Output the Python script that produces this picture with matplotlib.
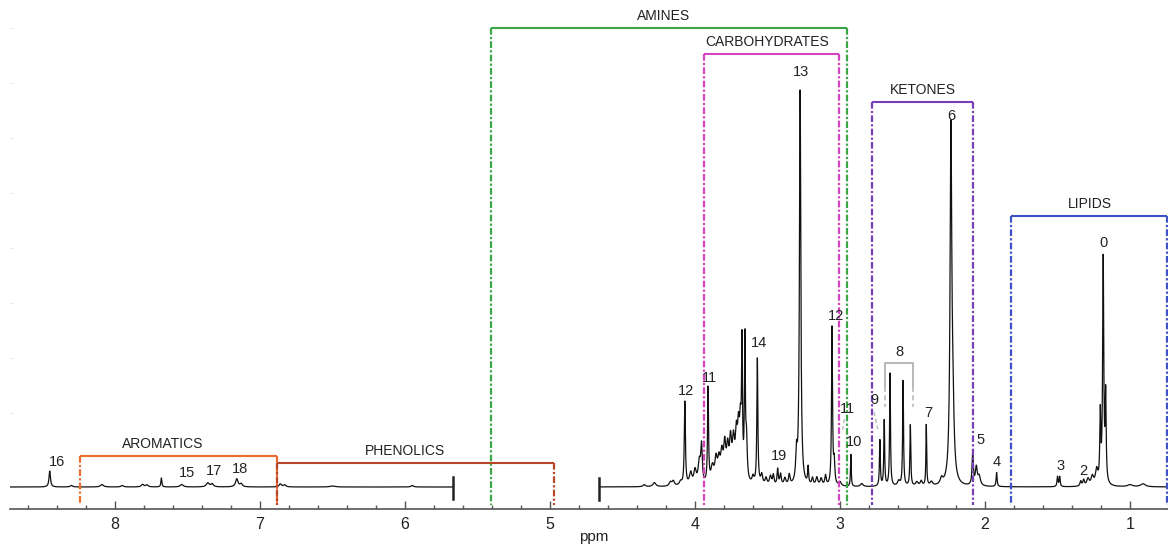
import numpy as np
import matplotlib
matplotlib.use("Agg")
import matplotlib.pyplot as plt

plt.rcParams['font.family'] = ['Liberation Sans', 'DejaVu Sans']

# peaks: position (ppm), height, half width (ppm)
left_peaks = [
    (8.45, 16, 0.006), (8.30, 1.5, 0.01), (8.09, 2.5, 0.012), (7.95, 1.5, 0.01),
    (7.81, 2.5, 0.01), (7.78, 2, 0.01), (7.68, 9, 0.004), (7.54, 2.5, 0.012),
    (7.36, 4, 0.012), (7.33, 3, 0.01), (7.16, 8, 0.01), (7.13, 3, 0.01),
    (6.86, 3, 0.01), (6.83, 2, 0.01), (6.50, 1, 0.02), (5.95, 1.5, 0.01),
]
right_peaks = [
    (4.35, 2, 0.01), (4.28, 4, 0.012), (4.17, 4, 0.01), (4.15, 5, 0.01), (4.10, 4, 0.01),
    (4.07, 84, 0.0045),
    (4.03, 12, 0.01), (4.00, 14, 0.01), (3.97, 22, 0.01), (3.955, 36, 0.006),
    (3.91, 95, 0.004),
    (3.88, 16, 0.012), (3.855, 22, 0.01), (3.835, 20, 0.01), (3.815, 26, 0.01),
    (3.795, 34, 0.009), (3.775, 30, 0.009), (3.755, 38, 0.009), (3.735, 36, 0.009),
    (3.715, 42, 0.009), (3.70, 44, 0.008), (3.687, 48, 0.007),
    (3.676, 128, 0.0038), (3.656, 138, 0.0038), (3.645, 40, 0.006),
    (3.60, 7, 0.008), (3.57, 126, 0.004),
    (3.54, 10, 0.008), (3.51, 7, 0.008), (3.48, 9, 0.008), (3.46, 10, 0.006),
    (3.43, 16, 0.005), (3.41, 11, 0.006), (3.38, 7, 0.008), (3.35, 10, 0.006),
    (3.30, 28, 0.006), (3.275, 396, 0.0055),
    (3.22, 17, 0.004), (3.19, 7, 0.006), (3.16, 8, 0.008), (3.13, 7, 0.008), (3.10, 10, 0.006),
    (3.055, 158, 0.004), (3.04, 22, 0.005),
    (3.00, 4, 0.01), (2.925, 32, 0.003), (2.85, 3, 0.01),
    (2.725, 46, 0.0035), (2.695, 66, 0.0035), (2.655, 113, 0.0035), (2.595, 5, 0.01),
    (2.565, 106, 0.0035), (2.515, 61, 0.0035), (2.47, 4, 0.01), (2.44, 5, 0.008),
    (2.405, 61, 0.003), (2.37, 4, 0.01), (2.30, 6, 0.01),
    (2.235, 345, 0.007), (2.222, 60, 0.01),
    (2.085, 33, 0.005), (2.06, 18, 0.008), (2.04, 9, 0.01), (1.92, 14, 0.004),
    (1.50, 10, 0.004), (1.485, 10, 0.004), (1.34, 5, 0.006), (1.32, 6, 0.006),
    (1.29, 7, 0.01), (1.26, 9, 0.01), (1.23, 15, 0.01),
    (1.205, 68, 0.004), (1.185, 225, 0.0045), (1.168, 86, 0.004),
    (1.00, 2, 0.02), (0.91, 3, 0.02),
]

# peak number labels: text, ppm, height
peak_labels = [
    ("16", 8.40, 25), ("15", 7.50, 14), ("17", 7.32, 16), ("18", 7.14, 18),
    ("12", 4.06, 96), ("11", 3.90, 109), ("14", 3.56, 144), ("19", 3.42, 31),
    ("13", 3.27, 415), ("12", 3.03, 171), ("11", 2.95, 78), ("10", 2.90, 45),
    ("9", 2.76, 87), ("8", 2.59, 135), ("7", 2.39, 74), ("6", 2.23, 371),
    ("5", 2.03, 47), ("4", 1.92, 25), ("3", 1.48, 21), ("2", 1.32, 16), ("0", 1.18, 244),
]

# compound class brackets: name, left ppm, right ppm, top, label ppm, colour
groups = [
    ("AMINES", 5.41, 2.95, 459, 4.22, "#3aa646"),
    ("CARBOHYDRATES", 3.94, 3.01, 433, 3.50, "#d444c0"),
    ("KETONES", 2.78, 2.08, 385, 2.43, "#7a3fb8"),
    ("LIPIDS", 1.82, 0.745, 271, 1.28, "#3d52c8"),
    ("AROMATICS", 8.24, 6.88, 31, 7.67, "#ec6a2e"),
    ("PHENOLICS", 6.88, 4.97, 24, 6.00, "#b8472a"),
]

left_range = (8.724, 5.67)
right_range = (4.66, 0.738)


def spectrum(ppm, peaks):
    y = np.zeros_like(ppm)
    for c, h, w in peaks:
        y += h * w**2 / ((ppm - c)**2 + w**2)
    return y


fig = plt.figure(figsize=(11.68, 5.45), dpi=100)
ax = fig.add_axes([10 / 1168, 36 / 545, 1158 / 1168, 509 / 545])

for rng, pk in [(left_range, left_peaks), (right_range, right_peaks)]:
    ppm = np.linspace(rng[0], rng[1], 6000)
    ax.plot(ppm, spectrum(ppm, pk), color='#111111', lw=0.9)

# segment end bars
ax.plot([left_range[1]] * 2, [-12, 10], color='#222222', lw=1.8)
ax.plot([right_range[0]] * 2, [-13, 9], color='#222222', lw=1.8)

for name, x0, x1, top, lx, col in groups:
    ax.plot([x0, x1], [top, top], color=col, lw=1.5, solid_capstyle='butt')
    for xv in (x0, x1):
        ax.plot([xv, xv], [top, -18], color=col, lw=1.6, ls=(0, (3, 1, 1, 1)))
    ax.text(lx, top + 5, name, ha='center', va='bottom', fontsize=10, color='#222222')

# bracket for group 8 and small leaders
ax.plot([2.69, 2.69, 2.50, 2.50], [100, 124, 124, 100], color='#aaaaaa', lw=1.2)
ax.plot([2.69, 2.69], [100, 80], color='#bbbbbb', lw=1.2, ls=(0, (3, 2)))
ax.plot([2.50, 2.50], [100, 80], color='#bbbbbb', lw=1.2, ls=(0, (3, 2)))
ax.plot([2.765, 2.74], [75, 58], color='#bbbbbb', lw=1.0, ls=(0, (3, 2)))
ax.plot([2.97, 2.985], [68, 54], color='#bbbbbb', lw=1.0, ls=(0, (3, 2)))

for t, x, y in peak_labels:
    ax.text(x, y, t, ha='center', va='center', fontsize=10.5, color='#222222')

ax.set_xlim(8.724, 0.738)
ax.set_ylim(-22, 487)
ax.set_xticks([8, 7, 6, 5, 4, 3, 2, 1])
ax.set_xticks(np.arange(1.0, 8.7, 0.2), minor=True)
ax.tick_params(axis='x', which='major', direction='in', length=6, width=1, color='#555555',
               labelsize=11.5, pad=6, labelcolor='#222222')
ax.tick_params(axis='x', which='minor', direction='in', length=3, width=1, color='#555555')
ax.set_yticks(np.arange(74, 470, 55))
ax.tick_params(axis='y', direction='in', length=2, color='#e6e6e6', labelleft=False)

fig.text(594 / 1168, 1 - 537 / 545, 'ppm', ha='center', va='center', fontsize=11, color='#222222')

for s in ['top', 'right', 'left']:
    ax.spines[s].set_visible(False)
ax.spines['bottom'].set_color('#555555')
ax.spines['bottom'].set_linewidth(1.2)

fig.savefig('out.png', dpi=100)
